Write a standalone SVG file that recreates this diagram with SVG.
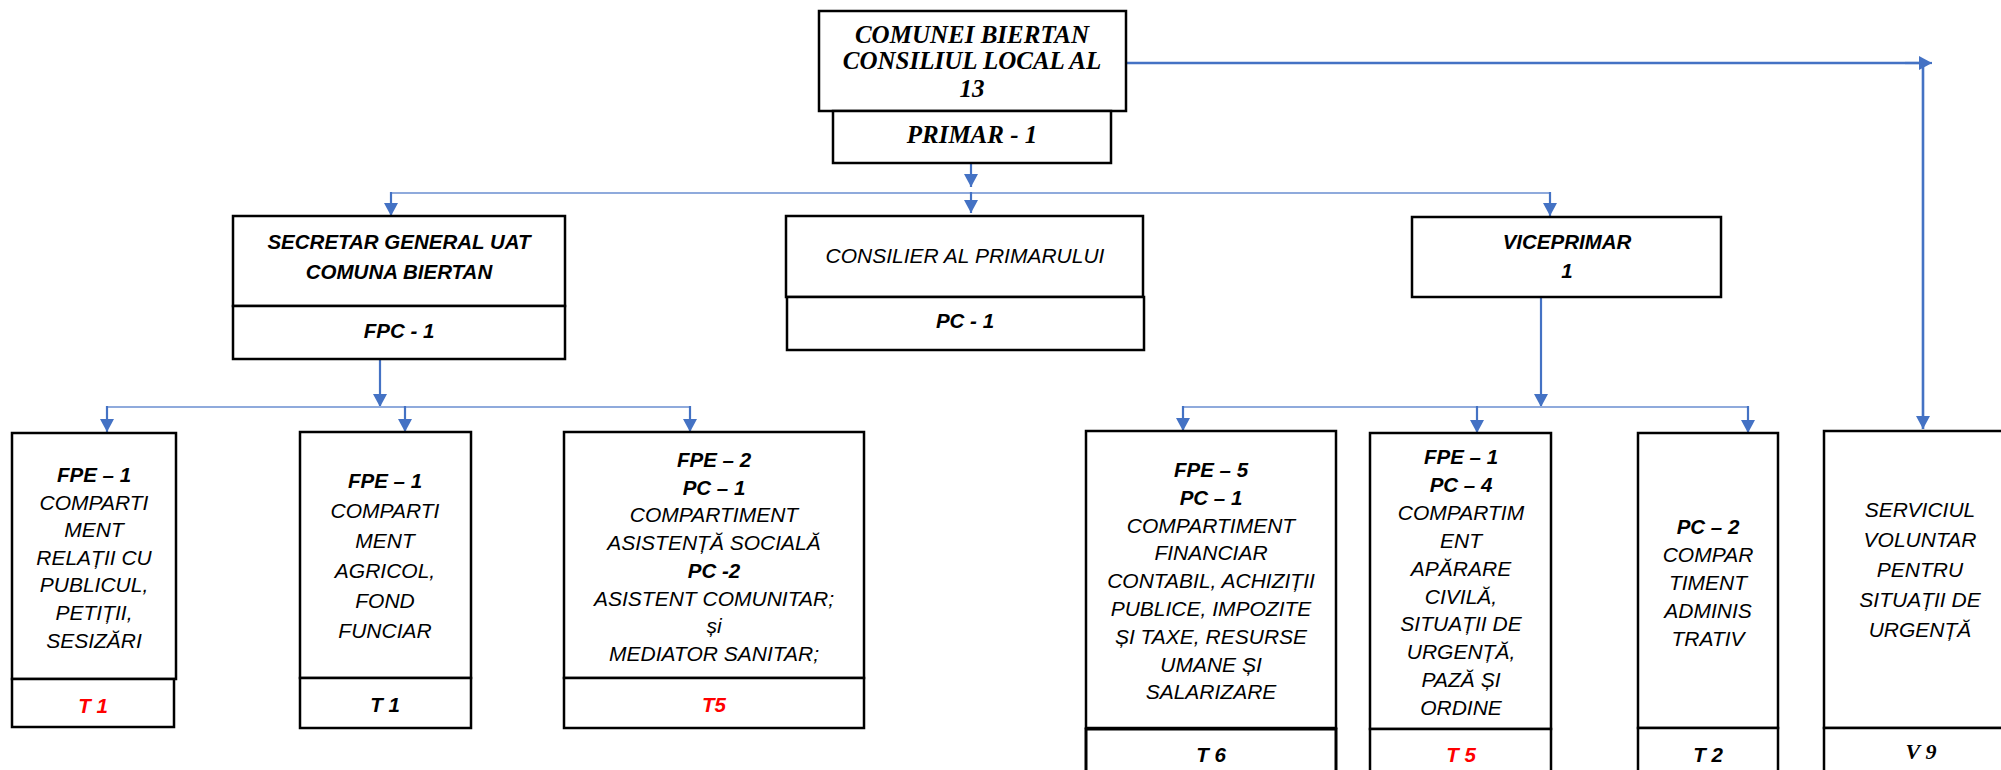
<svg xmlns="http://www.w3.org/2000/svg" width="2001" height="770" viewBox="0 0 2001 770">
<style>
.box{fill:#fff;stroke:#000;stroke-width:2.5}
.b{font-family:"Liberation Sans",Arial,sans-serif;font-style:italic;font-weight:bold;font-size:20.5px;text-anchor:middle;fill:#000}
.r{font-family:"Liberation Sans",Arial,sans-serif;font-style:italic;font-size:21px;text-anchor:middle;fill:#000}
.s{font-family:"Liberation Serif","Times New Roman",serif;font-style:italic;font-weight:bold;font-size:25px;text-anchor:middle;fill:#000}
.red{fill:#FF0000}
.arr{fill:none;stroke:#4472C4;stroke-width:2.2;marker-end:url(#ah)}
.bus{fill:none;stroke:#8FAADC;stroke-width:2.2}
.ln{fill:none;stroke:#4472C4;stroke-width:2.6}
</style>
<defs>
<marker id="ah" markerUnits="userSpaceOnUse" markerWidth="15" markerHeight="15" refX="13" refY="7" orient="auto">
<path d="M0,0 L13,7 L0,14 z" fill="#4472C4"/>
</marker>
</defs>
<rect width="2001" height="770" fill="#fff"/>

<g id="connectors">
<path class="ln" d="M1126,63 H1923 V429" marker-end="url(#ah)"/>
<path class="arr" d="M1905,63 H1932"/>
<path class="arr" d="M971,149 V187"/>
<path class="bus" d="M391,193 H1550"/>
<path class="arr" d="M391,192 V216"/>
<path class="arr" d="M971,192 V213"/>
<path class="arr" d="M1550,192 V216"/>
<path class="arr" d="M380,359 V407"/>
<path class="bus" d="M107,407 H690"/>
<path class="arr" d="M107,406 V432"/>
<path class="arr" d="M405,406 V432"/>
<path class="arr" d="M690,406 V432"/>
<path class="arr" d="M1541,297 V407"/>
<path class="bus" d="M1183,407 H1748"/>
<path class="arr" d="M1183,406 V431"/>
<path class="arr" d="M1477,406 V433"/>
<path class="arr" d="M1748,406 V433"/>
</g>

<g id="consiliu">
<rect class="box" x="819" y="11" width="307" height="100"/>
<text class="s" x="972" y="43">COMUNEI BIERTAN</text>
<text class="s" x="972" y="69">CONSILIUL LOCAL AL</text>
<text class="s" x="972" y="97">13</text>
</g>

<g id="primar">
<rect class="box" x="833" y="111" width="278" height="52"/>
<text class="s" x="972" y="143">PRIMAR - 1</text>
</g>

<g id="secretar">
<rect class="box" x="233" y="216" width="332" height="90"/>
<rect class="box" x="233" y="306" width="332" height="53"/>
<text class="b" x="399" y="249">SECRETAR GENERAL UAT</text>
<text class="b" x="399" y="279">COMUNA BIERTAN</text>
<text class="b" x="399" y="338">FPC - 1</text>
</g>

<g id="consilier">
<rect class="box" x="786" y="216" width="357" height="81"/>
<rect class="box" x="787" y="297" width="357" height="53"/>
<text class="r" x="965" y="263">CONSILIER AL PRIMARULUI</text>
<text class="b" x="965" y="328">PC - 1</text>
</g>

<g id="viceprimar">
<rect class="box" x="1412" y="217" width="309" height="80"/>
<text class="b" x="1567" y="249">VICEPRIMAR</text>
<text class="b" x="1567" y="278">1</text>
</g>

<g id="relatii">
<rect class="box" x="12" y="433" width="164" height="246"/>
<rect class="box" x="12" y="679" width="162" height="48"/>
<text class="b" x="94" y="482">FPE – 1</text>
<text class="r" x="94" y="509.6">COMPARTI</text>
<text class="r" x="94" y="537.2">MENT</text>
<text class="r" x="94" y="564.8">RELAȚII CU</text>
<text class="r" x="94" y="592.4">PUBLICUL,</text>
<text class="r" x="94" y="620">PETIȚII,</text>
<text class="r" x="94" y="647.6">SESIZĂRI</text>
<text class="b red" x="93" y="713">T 1</text>
</g>

<g id="agricol">
<rect class="box" x="300" y="432" width="171" height="246"/>
<rect class="box" x="300" y="678" width="171" height="50"/>
<text class="b" x="385" y="488">FPE – 1</text>
<text class="r" x="385" y="518">COMPARTI</text>
<text class="r" x="385" y="548">MENT</text>
<text class="r" x="385" y="578">AGRICOL,</text>
<text class="r" x="385" y="608">FOND</text>
<text class="r" x="385" y="638">FUNCIAR</text>
<text class="b" x="385" y="712">T 1</text>
</g>

<g id="asistenta">
<rect class="box" x="564" y="432" width="300" height="246"/>
<rect class="box" x="564" y="678" width="300" height="50"/>
<text class="b" x="714" y="467">FPE – 2</text>
<text class="b" x="714" y="494.7">PC – 1</text>
<text class="r" x="714" y="522.4">COMPARTIMENT</text>
<text class="r" x="714" y="550.1">ASISTENȚĂ SOCIALĂ</text>
<text class="b" x="714" y="577.8">PC -2</text>
<text class="r" x="714" y="605.5">ASISTENT COMUNITAR;</text>
<text class="r" x="714" y="633.2">și</text>
<text class="r" x="714" y="660.9">MEDIATOR SANITAR;</text>
<text class="b red" x="714" y="712">T5</text>
</g>

<g id="financiar">
<rect class="box" x="1086" y="431" width="250" height="297"/>
<rect class="box" x="1086" y="729" width="250" height="50" style="stroke-width:3"/>
<text class="b" x="1211" y="477">FPE – 5</text>
<text class="b" x="1211" y="504.8">PC – 1</text>
<text class="r" x="1211" y="532.6">COMPARTIMENT</text>
<text class="r" x="1211" y="560.4">FINANCIAR</text>
<text class="r" x="1211" y="588.2">CONTABIL, ACHIZIȚII</text>
<text class="r" x="1211" y="616">PUBLICE, IMPOZITE</text>
<text class="r" x="1211" y="643.8">ȘI TAXE, RESURSE</text>
<text class="r" x="1211" y="671.6">UMANE ȘI</text>
<text class="r" x="1211" y="699.4">SALARIZARE</text>
<text class="b" x="1211" y="762">T 6</text>
</g>

<g id="aparare">
<rect class="box" x="1370" y="433" width="181" height="296"/>
<rect class="box" x="1370" y="729" width="181" height="50"/>
<text class="b" x="1461" y="464">FPE – 1</text>
<text class="b" x="1461" y="491.9">PC – 4</text>
<text class="r" x="1461" y="519.8">COMPARTIM</text>
<text class="r" x="1461" y="547.7">ENT</text>
<text class="r" x="1461" y="575.6">APĂRARE</text>
<text class="r" x="1461" y="603.5">CIVILĂ,</text>
<text class="r" x="1461" y="631.4">SITUAȚII DE</text>
<text class="r" x="1461" y="659.3">URGENȚĂ,</text>
<text class="r" x="1461" y="687.2">PAZĂ ȘI</text>
<text class="r" x="1461" y="715.1">ORDINE</text>
<text class="b red" x="1461" y="762">T 5</text>
</g>

<g id="administrativ">
<rect class="box" x="1638" y="433" width="140" height="295"/>
<rect class="box" x="1638" y="728" width="140" height="50"/>
<text class="b" x="1708" y="534">PC – 2</text>
<text class="r" x="1708" y="562">COMPAR</text>
<text class="r" x="1708" y="590">TIMENT</text>
<text class="r" x="1708" y="618">ADMINIS</text>
<text class="r" x="1708" y="646">TRATIV</text>
<text class="b" x="1708" y="762">T 2</text>
</g>

<g id="svsu">
<rect class="box" x="1824" y="431" width="192" height="297"/>
<rect class="box" x="1824" y="728" width="192" height="50"/>
<text class="r" x="1920" y="517">SERVICIUL</text>
<text class="r" x="1920" y="547">VOLUNTAR</text>
<text class="r" x="1920" y="577">PENTRU</text>
<text class="r" x="1920" y="607">SITUAȚII DE</text>
<text class="r" x="1920" y="637">URGENȚĂ</text>
<text class="s" x="1921" y="759" style="font-size:22px">V 9</text>
</g>
</svg>
